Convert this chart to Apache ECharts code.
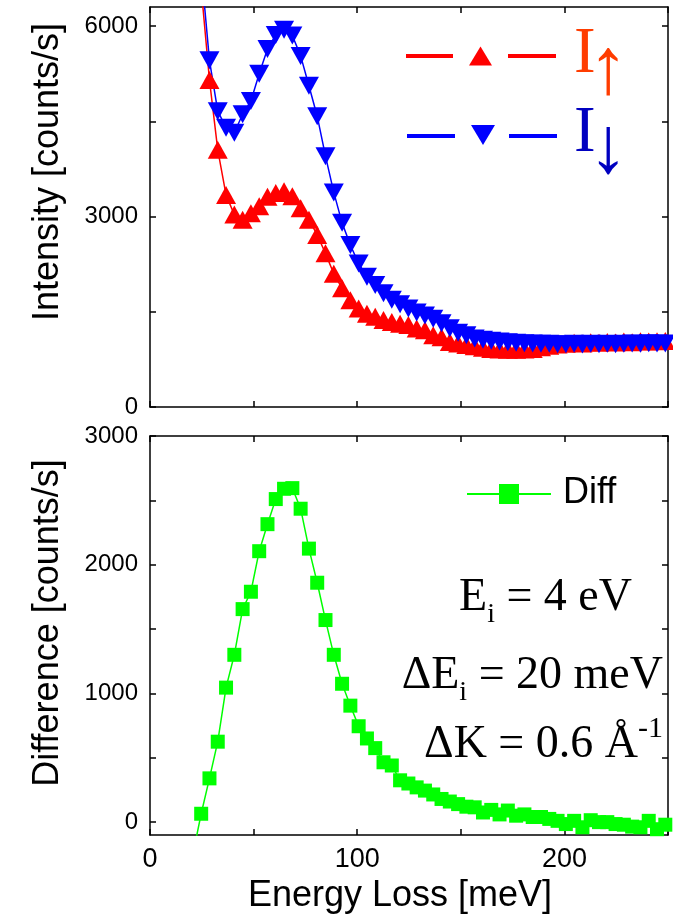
<!DOCTYPE html>
<html><head><meta charset="utf-8">
<script src="https://cdn.jsdelivr.net/npm/echarts@6/dist/echarts.min.js"></script>
<style>html,body{margin:0;padding:0;background:#fff}#c{width:673px;height:922px}</style>
</head><body><div id="c"></div>
<script>
// Energy loss (meV)
const energy = [20.7, 24.7, 28.7, 32.7, 36.7, 40.7, 44.7, 48.7, 52.7, 56.7,
  60.7, 64.7, 68.7, 72.7, 76.7, 80.7, 84.7, 88.7, 92.7, 96.7,
  100.7, 104.7, 108.7, 112.7, 116.7, 120.7, 124.7, 128.7, 132.7, 136.7,
  140.7, 144.7, 148.7, 152.7, 156.7, 160.7, 164.7, 168.7, 172.7, 176.7,
  180.7, 184.7, 188.7, 192.7, 196.7, 200.7, 204.7, 208.7, 212.7, 216.7,
  220.7, 224.7, 228.7, 232.7, 236.7, 240.7, 244.7, 248.7];
// I up (counts/s)
const intensityUp = [null, 6600, 5150, 4050, 3340, 3030, 2950, 3050, 3160, 3310,
  3370, 3400, 3320, 3130, 2950, 2710, 2420, 2100, 1870, 1680,
  1550, 1470, 1420, 1370, 1340, 1310, 1290, 1235, 1210, 1130,
  1100, 1025, 1000, 975, 955, 935, 915, 905, 900, 900,
  905, 915, 940, 965, 985, 995, 1010, 1000, 1020, 1010,
  1025, 1015, 1030, 1020, 1035, 1030, 1035, 1040];
// I down (counts/s)
const intensityDown = [null, 6900, 5460, 4660, 4400, 4320, 4610, 4820, 5250, 5640,
  5860, 5940, 5850, 5530, 5060, 4580, 3950, 3380, 2900, 2550,
  2260, 2050, 1920, 1790, 1690, 1620, 1550, 1490, 1440, 1390,
  1320, 1240, 1170, 1130, 1080, 1060, 1045, 1030, 1020, 1010,
  1005, 1000, 995, 995, 990, 990, 995, 985, 995, 990,
  995, 990, 995, 1000, 995, 1005, 1000, 1000];
// Difference (counts/s)
const difference = [-250, 65, 340, 625, 1045, 1300, 1655, 1790, 2105, 2315,
  2510, 2590, 2595, 2435, 2125, 1860, 1570, 1300, 1075, 905,
  745, 650, 575, 465, 440, 325, 300, 270, 245, 215,
  180, 160, 140, 120, 115, 75, 95, 60, 90, 50,
  60, 40, 40, 25, 10, -15, 10, -40, 15, 0,
  0, -15, -20, -35, -40, 10, -55, -20];

const xLabels = [0, 100, 200];
const topYTicks = [0, 1500, 3000, 4500, 6000];
const topYLabels = [0, 3000, 6000];
const botYTicks = [0, 500, 1000, 1500, 2000, 2500, 3000];
const botYLabels = [0, 1000, 2000, 3000];

function pairs(vals) {
  const out = [];
  for (let i = 0; i < energy.length; i++) if (vals[i] !== null) out.push([energy[i], vals[i]]);
  return out;
}
const SANS = 'Liberation Sans, Arial, sans-serif';
const SERIF = 'Liberation Serif, Times New Roman, serif';
const axisLine = {show: true, onZero: false, lineStyle: {color: '#000', width: 1.5}};
const plain = function (v) { return String(v); };
function xAx(grid, pos, show) {
  return {type: 'value', gridIndex: grid, position: pos, min: 0, max: 250, interval: 50,
    axisLine: axisLine,
    axisTick: {show: true, inside: true, length: 6, lineStyle: {color: '#000', width: 1.5}},
    axisLabel: {show: show, customValues: xLabels, formatter: plain, fontFamily: SANS, fontSize: 27, color: '#000', margin: 11},
    splitLine: {show: false}};
}
function yAx(grid, pos, min, max, ticks, labels, show) {
  return {type: 'value', gridIndex: grid, position: pos, min: min, max: max,
    axisLine: axisLine,
    axisTick: {show: true, inside: true, length: 6, customValues: ticks, lineStyle: {color: '#000', width: 1.5}},
    axisLabel: {show: show, customValues: labels, formatter: plain, fontFamily: SANS, fontSize: 24, color: '#000', margin: 12},
    splitLine: {show: false}};
}
function txt(x, y, text, size, color, family, align, extra) {
  return Object.assign({type: 'text', x: x, y: y, silent: true,
    style: {text: text, fontSize: size, fontFamily: family, fill: color,
      align: align, textAlign: align, verticalAlign: 'middle', textVerticalAlign: 'middle'}}, extra || {});
}
const annRich = {
  a: {fontSize: 46, fontFamily: SERIF, color: '#000', lineHeight: 46},
  s: {fontSize: 28, fontFamily: SERIF, color: '#000', lineHeight: 28, padding: [34, 0, 0, 0]},
  p: {fontSize: 30, fontFamily: SERIF, color: '#000', lineHeight: 30, padding: [0, 0, 32, 0]}
};
function rich(x, y, text) {
  return {type: 'text', x: x, y: y, silent: true,
    style: {text: text, rich: annRich, fontSize: 46, fontFamily: SERIF, fill: '#000',
      align: 'right', textAlign: 'right', verticalAlign: 'middle', textVerticalAlign: 'middle'}};
}

const chart = echarts.init(document.getElementById('c'));
chart.setOption({
  animation: false,
  backgroundColor: '#fff',
  grid: [
    {left: 150, right: 5, top: 7, height: 400},
    {left: 150, right: 5, top: 436, height: 399}
  ],
  xAxis: [xAx(0, 'bottom', false), xAx(0, 'top', false), xAx(1, 'bottom', true), xAx(1, 'top', false)],
  yAxis: [
    yAx(0, 'left', 0, 6300, topYTicks, topYLabels, true),
    yAx(0, 'right', 0, 6300, topYTicks, topYLabels, false),
    yAx(1, 'left', -100, 3000, botYTicks, botYLabels, true),
    yAx(1, 'right', -100, 3000, botYTicks, botYLabels, false)
  ],
  series: [
    {type: 'line', xAxisIndex: 0, yAxisIndex: 0, data: pairs(intensityUp), clip: true,
      symbol: 'triangle', symbolSize: [20, 18], itemStyle: {color: '#ff0000'},
      lineStyle: {color: '#ff0000', width: 1.5}},
    {type: 'line', xAxisIndex: 0, yAxisIndex: 0, data: pairs(intensityDown), clip: true,
      symbol: 'triangle', symbolRotate: 180, symbolSize: [20, 18], itemStyle: {color: '#0000ff'},
      lineStyle: {color: '#0000ff', width: 1.5}},
    {type: 'line', xAxisIndex: 2, yAxisIndex: 2, data: pairs(difference), clip: true,
      symbol: 'rect', symbolSize: 14, itemStyle: {color: '#00ff00'},
      lineStyle: {color: '#00ff00', width: 1.5}}
  ],
  graphic: [
    // axis titles
    txt(48, 172, 'Intensity [counts/s]', 36, '#000', SANS, 'center', {rotation: Math.PI / 2}),
    txt(48, 623, 'Difference [counts/s]', 36, '#000', SANS, 'center', {rotation: Math.PI / 2}),
    txt(400, 896, 'Energy Loss [meV]', 36, '#000', SANS, 'center'),
    // top legend
    {type: 'line', silent: true, shape: {x1: 406, y1: 56, x2: 453, y2: 56}, style: {stroke: '#ff0000', lineWidth: 4}},
    {type: 'line', silent: true, shape: {x1: 508, y1: 56, x2: 556, y2: 56}, style: {stroke: '#ff0000', lineWidth: 4}},
    {type: 'polygon', silent: true, shape: {points: [[469, 65.5], [492, 65.5], [480.5, 46.5]]}, style: {fill: '#ff0000'}},
    {type: 'line', silent: true, shape: {x1: 407, y1: 136, x2: 455, y2: 136}, style: {stroke: '#0000ff', lineWidth: 4}},
    {type: 'line', silent: true, shape: {x1: 509, y1: 136, x2: 557, y2: 136}, style: {stroke: '#0000ff', lineWidth: 4}},
    {type: 'polygon', silent: true, shape: {points: [[471, 125], [495, 125], [483, 145]]}, style: {fill: '#0000ff'}},
    txt(574, 55, 'I', 65, '#ff3c00', SERIF, 'left'),
    txt(608, 72, '\u2191', 80, '#ff3c00', SERIF, 'center'),
    txt(574, 134, 'I', 65, '#0000c0', SERIF, 'left'),
    txt(608, 151, '\u2193', 80, '#0000c0', SERIF, 'center'),
    // bottom legend
    {type: 'line', silent: true, shape: {x1: 467, y1: 494, x2: 551, y2: 494}, style: {stroke: '#00ff00', lineWidth: 2}},
    {type: 'rect', silent: true, shape: {x: 499, y: 484, width: 20, height: 20}, style: {fill: '#00ff00'}},
    txt(563, 493, 'Diff', 36, '#000', SANS, 'left'),
    // annotations
    rich(632, 598, '{a|E}{s|i}{a| = 4 eV}'),
    rich(663, 676, '{a|\u0394E}{s|i}{a| = 20 meV}'),
    rich(663, 745, '{a|\u0394K = 0.6 \u00C5}{p|-1}')
  ]
});
</script>
</body></html>
